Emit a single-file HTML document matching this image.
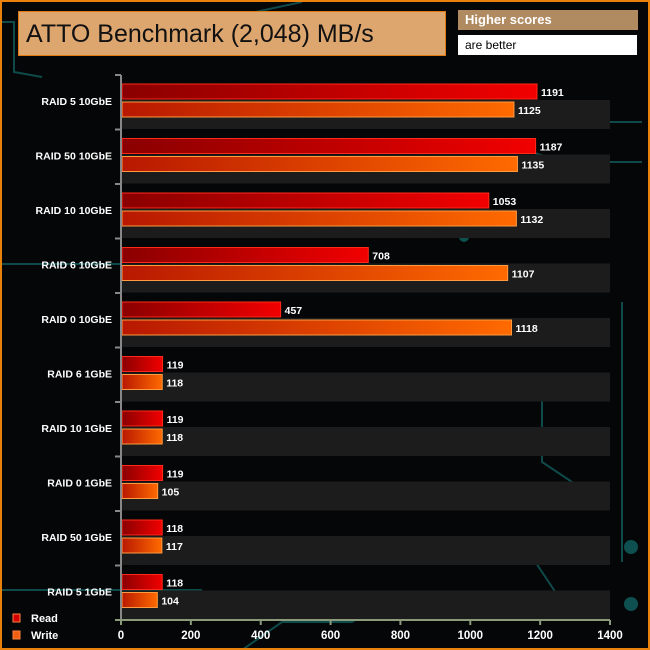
<!DOCTYPE html>
<html><head><meta charset="utf-8"><style>
body{margin:0;background:#000;}
#wrap{position:relative;width:646px;height:646px;border:2px solid #e8820c;background:#050607;overflow:hidden;font-family:"Liberation Sans",sans-serif;}
svg{position:absolute;left:0;top:0}
</style></head><body>
<div id="wrap">
<svg id="c" width="646" height="646">
 <g stroke="#0f4a4a" stroke-width="2" fill="none">
  <path d="M0 20 L12 20 L12 70 L40 75"/>
  <path d="M430 120 L640 120"/>
  <path d="M500 140 L560 160 L640 160"/>
  <path d="M0 262 L120 262"/>
  <path d="M0 588 L200 588"/>
  <path d="M240 648 L280 620 L350 620 L380 600"/>
  <path d="M230 15 L300 0"/>
  <path d="M430 540 L520 540 L560 600"/>
  <path d="M620 300 L620 560"/>
  <path d="M540 380 L540 460 L600 500"/>
 </g>
 <circle cx="629" cy="545" r="7" fill="#0e5050"/>
 <circle cx="629" cy="602" r="7" fill="#0e5050"/>
 <circle cx="462" cy="235" r="5" fill="#0e5050"/>
</svg>
<div style="position:absolute;left:16px;top:9px;width:428px;height:45px;background:#dda66f;border:1px solid #e07a10;box-sizing:border-box;font-size:25px;line-height:44px;padding-left:7px;color:#111">ATTO Benchmark (2,048) MB/s</div>
<div style="position:absolute;left:456px;top:8px;width:180px;height:20px;background:#b08a60;color:#fff;font-size:13px;font-weight:bold;line-height:20px;padding-left:7px;box-sizing:border-box">Higher scores</div>
<div style="position:absolute;left:456px;top:33px;width:179px;height:20px;background:#fff;color:#000;font-size:12px;line-height:20px;padding-left:7px;box-sizing:border-box">are better</div>
</div>
<script>
const categories=["RAID 5 10GbE","RAID 50 10GbE","RAID 10 10GbE","RAID 6 10GbE","RAID 0 10GbE","RAID 6 1GbE","RAID 10 1GbE","RAID 0 1GbE","RAID 50 1GbE","RAID 5 1GbE"];
const readVals=[1191,1187,1053,708,457,119,119,119,118,118];
const writeVals=[1125,1135,1132,1107,1118,118,118,105,117,104];
const ticks=[0,200,400,600,800,1000,1200,1400];
const svg=document.getElementById('c');
const NS='http://www.w3.org/2000/svg';
const ox=-2,oy=-2;
const X0=121+ox,X1=610+ox,XMAX=1400,Y0=75+oy,Y1=620+oy;
const x=v=>X0+(X1-X0)*v/XMAX;
const band=(Y1-Y0)/categories.length;
const yg=i=>Y0+band*i;
function mk(t,a){const e=document.createElementNS(NS,t);for(const k in a)e.setAttribute(k,a[k]);svg.appendChild(e);return e;}
const defs=mk('defs',{});
defs.innerHTML='<linearGradient id="gr"><stop offset="0" stop-color="#8a0000"/><stop offset="1" stop-color="#f20000"/></linearGradient><linearGradient id="gw"><stop offset="0" stop-color="#b81800"/><stop offset="1" stop-color="#ff6a00"/></linearGradient>';
categories.forEach((c,i)=>{
 const g=yg(i);
 const bg=mk('rect',{x:X0,y:g+25,width:X1-X0,height:29,fill:'#1c1c1c'});
 
 
 const r=mk('rect',{x:X0+1,y:g+9,width:x(readVals[i])-X0-1,height:15,fill:'url(#gr)',stroke:'#ff2a1a','stroke-width':1});
 
 
 const w=mk('rect',{x:X0+1,y:g+27,width:x(writeVals[i])-X0-1,height:15,fill:'url(#gw)',stroke:'#ff9a40','stroke-width':1});
 
 
 const t1=mk('text',{x:x(readVals[i])+4,y:g+21,fill:'#fff','font-size':10.5,'font-weight':'bold'});t1.textContent=readVals[i];
 
 
 const t2=mk('text',{x:x(writeVals[i])+4,y:g+39,fill:'#fff','font-size':10.5,'font-weight':'bold'});t2.textContent=writeVals[i];
 
 
 const l=mk('text',{x:X0-9,y:g+30,fill:'#fff','font-size':10.5,'font-weight':'bold','text-anchor':'end'});l.textContent=c;
 
 
 mk('line',{x1:X0-6,x2:X0,y1:g,y2:g,stroke:'#888','stroke-width':2});
});
mk('line',{x1:X0,x2:X0,y1:Y0,y2:Y1,stroke:'#888','stroke-width':2});
mk('line',{x1:X0-6,x2:X1,y1:Y1,y2:Y1,stroke:'#8a9a7a','stroke-width':2});
ticks.forEach(t=>{
 mk('line',{x1:x(t),x2:x(t),y1:Y1,y2:Y1+5,stroke:'#8a9a7a','stroke-width':2});
 const e=mk('text',{x:x(t),y:Y1+19,fill:'#fff','font-size':11.5,'font-weight':'bold','text-anchor':'middle'});e.textContent=t;
 
 
});
[['Read','#d40000',626],['Write','#f06010',643]].forEach(([n,col,yy])=>{
 mk('rect',{x:11,y:yy-14,width:7,height:8,fill:col,stroke:'#ff8040'});
 const e=mk('text',{x:29,y:yy-6,fill:'#fff','font-size':11,'font-weight':'bold'});e.textContent=n;
 
 
});
</script>
</body></html>
